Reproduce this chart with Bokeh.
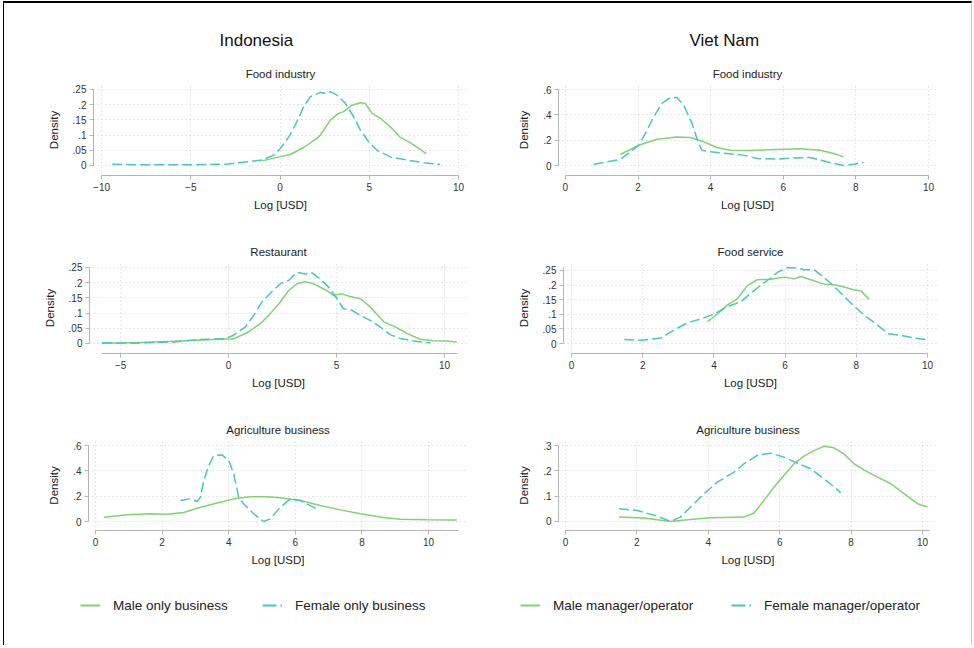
from bokeh.plotting import figure
from bokeh.models import FixedTicker, Title, Legend, LegendItem, Range1d
from bokeh.layouts import column, row
from bokeh.embed import file_html
from bokeh.resources import INLINE

FONT = "Liberation Sans"
GREEN = "#84cf78"
TEAL = "#4cc6b6"

country_titles = ["Indonesia", "Viet Nam"]
panel_titles = ["Food industry", "Food industry", "Restaurant", "Food service",
                "Agriculture business", "Agriculture business"]
legend_labels_ind = ["Male only business", "Female only business"]
legend_labels_vn = ["Male manager/operator", "Female manager/operator"]
x_label = "Log [USD]"
y_label = "Density"

# ---- Indonesia: Food industry ----
ind_food_m_x = [-1.0, 0.02, 0.58, 1.32, 2.07, 2.26, 2.82, 3.28, 3.56, 4.03, 4.5, 4.78,
                5.15, 5.62, 6.18, 6.74, 7.29, 7.76, 8.19]
ind_food_m_y = [0.015, 0.029, 0.036, 0.059, 0.089, 0.1, 0.149, 0.171, 0.177, 0.198, 0.206,
                0.204, 0.171, 0.155, 0.127, 0.092, 0.075, 0.056, 0.039]
ind_food_f_x = [-9.4, -8, -6, -4, -3, -1.85, -1.0, -0.35, 0.02, 0.49, 0.95, 1.32, 1.7, 2.26,
                2.54, 2.82, 3.19, 3.66, 4.12, 4.5, 4.96, 5.43, 6.18, 7.1, 8.04, 8.97]
ind_food_f_y = [0.004, 0.002, 0.002, 0.003, 0.004, 0.012, 0.018, 0.034, 0.056, 0.094, 0.144,
                0.193, 0.226, 0.24, 0.237, 0.242, 0.231, 0.204, 0.16, 0.116, 0.078, 0.05,
                0.028, 0.018, 0.009, 0.003]

# ---- Viet Nam: Food industry ----
vn_food_m_x = [1.51, 2.02, 2.52, 3.07, 3.44, 3.81, 4.17, 4.54, 5.09, 5.83, 6.47, 7.02, 7.39, 7.66]
vn_food_m_y = [0.087, 0.16, 0.208, 0.226, 0.221, 0.187, 0.142, 0.121, 0.118, 0.126, 0.132,
               0.121, 0.095, 0.068]
vn_food_f_x = [0.78, 1.15, 1.51, 1.79, 2.02, 2.25, 2.43, 2.66, 2.89, 3.07, 3.26, 3.49, 3.67,
               3.76, 3.99, 4.45, 4.91, 5.28, 5.83, 6.28, 6.74, 7.2, 7.66, 7.94, 8.21]
vn_food_f_y = [0.008, 0.03, 0.047, 0.108, 0.16, 0.28, 0.384, 0.49, 0.537, 0.537, 0.476, 0.33,
               0.174, 0.121, 0.108, 0.095, 0.082, 0.055, 0.05, 0.06, 0.063, 0.029, 0.0, 0.01,
               0.024]

# ---- Indonesia: Restaurant ----
ind_rest_m_x = [-5.86, -4.09, -2.55, -1.31, 0.0, 0.23, 0.85, 1.47, 1.93, 2.39, 2.78, 3.16,
                3.55, 3.94, 4.4, 4.71, 4.86, 5.25, 5.63, 6.1, 6.56, 7.18, 7.64, 8.26, 8.87,
                9.49, 10.1, 10.57]
ind_rest_m_y = [0.001, 0.003, 0.007, 0.011, 0.015, 0.015, 0.035, 0.065, 0.098, 0.136, 0.174,
                0.196, 0.203, 0.196, 0.179, 0.166, 0.158, 0.163, 0.154, 0.147, 0.12, 0.071,
                0.057, 0.033, 0.014, 0.009, 0.008, 0.005]
ind_rest_f_x = [-5.86, -4.4, -2.55, -1.31, -0.15, 0.23, 0.77, 1.16, 1.54, 1.93, 2.39, 2.78,
                3.16, 3.55, 3.86, 4.24, 4.63, 5.02, 5.32, 5.71, 6.1, 6.56, 7.02, 7.48, 7.95,
                8.56, 9.34]
ind_rest_f_y = [0.002, 0.001, 0.005, 0.013, 0.016, 0.027, 0.054, 0.092, 0.136, 0.165, 0.196,
                0.207, 0.234, 0.228, 0.232, 0.212, 0.185, 0.147, 0.114, 0.109, 0.092, 0.076,
                0.054, 0.029, 0.016, 0.008, 0.002]

# ---- Viet Nam: Food service ----
vn_serv_m_x = [3.82, 4.1, 4.38, 4.66, 4.94, 5.22, 5.6, 5.97, 6.25, 6.44, 6.72, 7.1, 7.38,
               7.66, 7.94, 8.13, 8.36]
vn_serv_m_y = [0.075, 0.101, 0.132, 0.153, 0.198, 0.218, 0.22, 0.227, 0.221, 0.229, 0.218,
               0.203, 0.201, 0.193, 0.183, 0.18, 0.151]
vn_serv_f_x = [1.48, 1.95, 2.51, 2.88, 3.26, 3.63, 4.01, 4.38, 4.76, 5.04, 5.32, 5.6, 5.79,
               6.07, 6.35, 6.54, 6.82, 7.0, 7.28, 7.57, 7.85, 8.22, 8.6, 8.88, 9.34, 9.72, 10.0]
vn_serv_f_y = [0.014, 0.011, 0.019, 0.046, 0.071, 0.084, 0.101, 0.126, 0.143, 0.172, 0.2,
               0.224, 0.244, 0.26, 0.258, 0.252, 0.252, 0.235, 0.206, 0.172, 0.138, 0.097,
               0.063, 0.034, 0.026, 0.017, 0.013]

# ---- Indonesia: Agriculture business ----
ind_agr_m_x = [0.25, 0.95, 1.65, 2.15, 2.65, 3.15, 3.65, 4.15, 4.65, 5.15, 5.55, 6.15, 6.75,
               7.35, 7.95, 8.65, 9.15, 9.95, 10.85]
ind_agr_m_y = [0.034, 0.053, 0.061, 0.058, 0.071, 0.113, 0.147, 0.179, 0.195, 0.195, 0.187,
               0.166, 0.126, 0.092, 0.061, 0.032, 0.018, 0.013, 0.011]
ind_agr_f_x = [2.55, 2.85, 3.05, 3.15, 3.25, 3.4, 3.55, 3.8, 4.0, 4.15, 4.3, 4.45, 4.75, 5.05,
               5.25, 5.55, 5.85, 6.15, 6.35, 6.7]
ind_agr_f_y = [0.166, 0.179, 0.158, 0.192, 0.324, 0.442, 0.521, 0.526, 0.482, 0.376, 0.192,
               0.139, 0.061, 0.0, 0.021, 0.113, 0.179, 0.166, 0.139, 0.092]

# ---- Viet Nam: Agriculture business ----
vn_agr_m_x = [1.5, 2.2, 2.94, 3.41, 4.07, 5.0, 5.28, 5.56, 5.84, 6.12, 6.4, 6.68, 6.96, 7.24,
              7.52, 7.8, 8.08, 8.36, 8.74, 9.11, 9.49, 9.86, 10.14]
vn_agr_m_y = [0.017, 0.013, 0.0, 0.007, 0.014, 0.017, 0.033, 0.083, 0.136, 0.182, 0.228,
              0.258, 0.28, 0.297, 0.291, 0.267, 0.228, 0.204, 0.175, 0.149, 0.109, 0.07, 0.057]
vn_agr_f_x = [1.5, 2.01, 2.57, 2.94, 3.22, 3.55, 3.88, 4.25, 4.72, 5.0, 5.37, 5.75, 6.12, 6.5,
              6.87, 7.24, 7.48, 7.71]
vn_agr_f_y = [0.05, 0.043, 0.021, 0.0, 0.017, 0.063, 0.109, 0.155, 0.195, 0.228, 0.261, 0.27,
              0.254, 0.23, 0.208, 0.168, 0.142, 0.113]

# ---- tick values / labels ----
xt_m10_10 = [-10, -5, 0, 5, 10]
xt_m5_10 = [-5, 0, 5, 10]
xt_0_10 = [0, 2, 4, 6, 8, 10]
yt_025 = [0, 0.05, 0.1, 0.15, 0.2, 0.25]
yl_025 = ["0", ".05", ".1", ".15", ".2", ".25"]
yt_06 = [0, 0.2, 0.4, 0.6]
yl_06 = ["0", ".2", ".4", ".6"]
yt_03 = [0, 0.1, 0.2, 0.3]
yl_03 = ["0", ".1", ".2", ".3"]

AX = "#b5b5b5"


def panel(title, mx, my, fx, fy, xr, yr, xb, yb, xt, yt, yl, w, h, bl, br, bt, bb,
          header=None, header_offset=0):
    p = figure(width=w, height=h, x_range=Range1d(*xr), y_range=Range1d(*yr),
               output_backend="svg", toolbar_location=None, title=None,
               min_border_left=bl, min_border_right=br, min_border_top=bt,
               min_border_bottom=bb)
    p.outline_line_color = None
    p.background_fill_color = "white"
    p.border_fill_color = "white"
    p.add_layout(Title(text=title, align="center", standoff=9, text_font=FONT,
                       text_font_size="11.5px", text_font_style="normal",
                       text_color="#222222"), "above")
    if header is not None:
        p.add_layout(Title(text=header, align="left", offset=header_offset, standoff=24,
                           text_font=FONT, text_font_size="17px",
                           text_font_style="normal", text_color="#111111"), "above")
    p.xaxis.ticker = FixedTicker(ticks=xt)
    p.yaxis.ticker = FixedTicker(ticks=yt)
    p.yaxis.major_label_overrides = {t: l for t, l in zip(yt, yl)}
    p.xaxis.bounds = xb
    p.yaxis.bounds = yb
    for ax in (p.xaxis, p.yaxis):
        ax.axis_line_color = AX
        ax.axis_line_width = 1
        ax.major_tick_line_color = AX
        ax.major_tick_out = 4
        ax.major_tick_in = 0
        ax.minor_tick_line_color = None
        ax.major_label_text_font = FONT
        ax.major_label_text_font_size = "10px"
        ax.major_label_text_color = "#333333"
        ax.axis_label_text_font = FONT
        ax.axis_label_text_font_size = "11.5px"
        ax.axis_label_text_font_style = "normal"
        ax.axis_label_text_color = "#222222"
    p.xaxis.axis_label = x_label
    p.yaxis.axis_label = y_label
    p.xaxis.major_label_standoff = 3
    p.xaxis.axis_label_standoff = 5
    p.yaxis.major_label_standoff = 3
    p.yaxis.axis_label_standoff = 10
    for g in (p.xgrid, p.ygrid):
        g.grid_line_color = "#cfcfcf"
        g.grid_line_dash = "1 3"
        g.grid_line_width = 1
    p.line(mx, my, line_color=GREEN, line_width=1.5)
    p.line(fx, fy, line_color=TEAL, line_width=1.5, line_dash="10 4")
    return p


# left column spans x 4..490, right column 490..971 (origin shifted by the page frame)
p1 = panel(panel_titles[0], ind_food_m_x, ind_food_m_y, ind_food_f_x, ind_food_f_y,
           (-10.45, 10.5), (-0.033, 0.266), (-10, 10), (0, 0.25),
           xt_m10_10, yt_025, yl_025, 486, 222, 89, 23, 81, 50,
           header=country_titles[0], header_offset=126)
p2 = panel(panel_titles[1], vn_food_m_x, vn_food_m_y, vn_food_f_x, vn_food_f_y,
           (-0.19, 10.22), (-0.079, 0.64), (0, 10), (0, 0.6),
           xt_0_10, yt_06, yl_06, 481, 222, 68, 35, 81, 50,
           header=country_titles[1], header_offset=131)
p3 = panel(panel_titles[2], ind_rest_m_x, ind_rest_m_y, ind_rest_f_x, ind_rest_f_y,
           (-6.44, 11.06), (-0.033, 0.266), (-5.9, 10.6), (0, 0.25),
           xt_m5_10, yt_025, yl_025, 486, 180, 85, 23, 37, 52)
p4 = panel(panel_titles[3], vn_serv_m_x, vn_serv_m_y, vn_serv_f_x, vn_serv_f_y,
           (-0.225, 10.28), (-0.034, 0.277), (0, 10), (0, 0.26),
           xt_0_10, yt_025, yl_025, 481, 180, 73, 34, 37, 52)
p5 = panel(panel_titles[4], ind_agr_m_x, ind_agr_m_y, ind_agr_f_x, ind_agr_f_y,
           (-0.21, 11.17), (-0.071, 0.64), (0, 10.9), (0, 0.6),
           xt_0_10, yt_06, yl_06, 486, 175, 84, 23, 35, 50)
p6 = panel(panel_titles[5], vn_agr_m_x, vn_agr_m_y, vn_agr_f_x, vn_agr_f_y,
           (-0.196, 10.42), (-0.036, 0.32), (0, 10.2), (0, 0.3),
           xt_0_10, yt_03, yl_03, 481, 175, 68, 34, 35, 50)

# legend strip: proxy lines of the same series kept outside the (empty) visible range
pl = figure(width=967, height=65, x_range=Range1d(100, 101), y_range=Range1d(100, 101),
            output_backend="svg", toolbar_location=None, title=None,
            min_border_left=0, min_border_right=0, min_border_top=0, min_border_bottom=0)
pl.axis.visible = False
pl.grid.visible = False
pl.outline_line_color = None
pl.background_fill_color = "white"
lm = pl.line(ind_agr_m_x, ind_agr_m_y, line_color=GREEN, line_width=2)
lf = pl.line(ind_agr_f_x, ind_agr_f_y, line_color=TEAL, line_width=2, line_dash="14 4")
legend_specs = [(legend_labels_ind[0], lm, 76), (legend_labels_ind[1], lf, 258),
                (legend_labels_vn[0], lm, 516), (legend_labels_vn[1], lf, 727)]
for lab, r, x in legend_specs:
    pl.add_layout(Legend(items=[LegendItem(label=lab, renderers=[r])], location=(x, 30),
                         orientation="horizontal", padding=0, margin=0, spacing=0,
                         label_standoff=13, glyph_width=20, glyph_height=20,
                         label_height=20, background_fill_alpha=0, border_line_alpha=0,
                         label_text_font=FONT, label_text_font_size="13.5px",
                         label_text_color="#222222"))

layout = column(row(p1, p2), row(p3, p4), row(p5, p6), pl,
                styles={"border-top": "2px solid #000000",
                        "border-left": "1px solid #000000",
                        "border-right": "1px solid #c8c8c8",
                        "margin-left": "3px", "margin-top": "1px"})

open("out.html", "w").write(file_html(layout, INLINE))
